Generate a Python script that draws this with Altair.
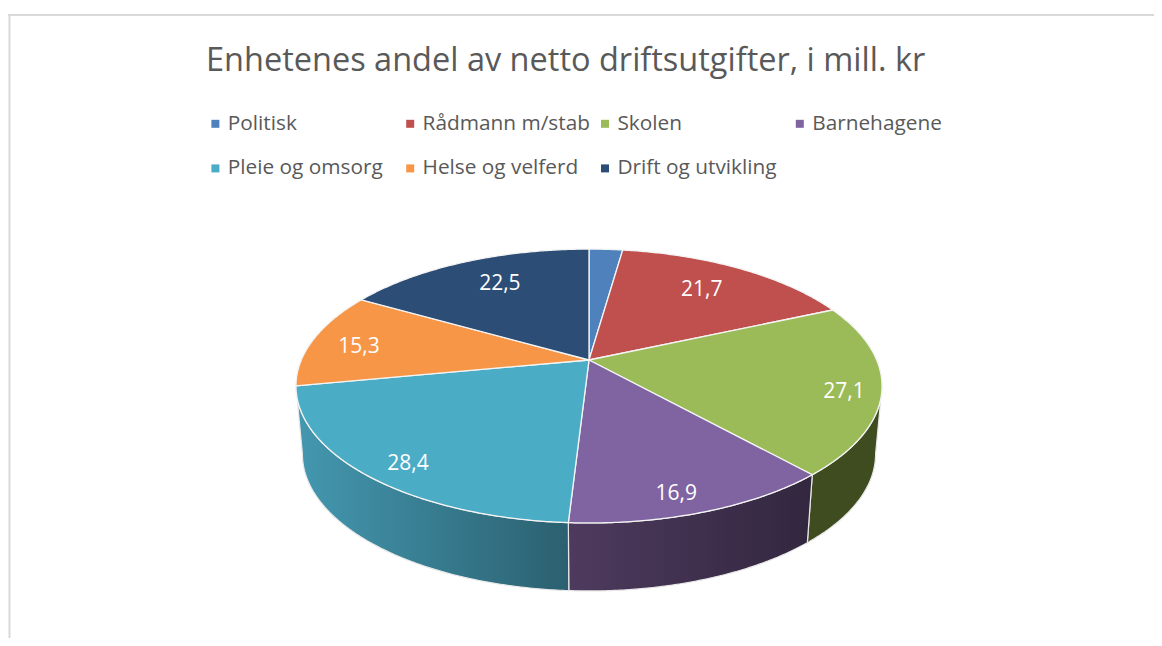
import math
import altair as alt
import pandas as pd

# ---- chart values ----
categories = ["Politisk", "Rådmann m/stab", "Skolen", "Barnehagene",
              "Pleie og omsorg", "Helse og velferd", "Drift og utvikling"]
values = [3.0, 21.7, 27.1, 16.9, 28.4, 15.3, 22.5]
labels = ["", "21,7", "27,1", "16,9", "28,4", "15,3", "22,5"]
colors = ["#4f81bd", "#c0504d", "#9bbb59", "#8064a2", "#4bacc6", "#f79646", "#2c4d75"]
title_text = "Enhetenes andel av netto driftsutgifter, i mill. kr"

# ---- 3-D pie geometry (perspective view of a disc, page pixels) ----
CX, CY = 589.0, 360.0
RX, RY = 287.7, 132.0
PERSP = 0.19
DEPTH = 68.0
BOTTOM_SHRINK = 0.978
VISIBLE_FROM = 101.0
label_radius = [0.8, 0.75, 0.877, 0.878, 0.869, 0.825, 0.75]
label_turn = [0.0, -1.3, 2.1, 2.35, -2.1, -1.5, 2.3]
FONT = "Open Sans"


def top_point(theta_deg, r=1.0):
    t = math.radians(theta_deg)
    u, v = r * math.sin(t), r * math.cos(t)
    w = 1 + PERSP * v
    return [CX + RX * u / w, CY - RY * v / w]


def bottom_point(theta_deg):
    x, y = top_point(theta_deg)
    return [CX + (x - CX) * BOTTOM_SHRINK, y + DEPTH]


def sweep(a, b):
    n = max(2, int((b - a) * 2))
    return [a + (b - a) * i / n for i in range(n + 1)]


total = sum(values)
starts, ends = [], []
acc = 0.0
for val in values:
    starts.append(acc / total * 360)
    acc += val
    ends.append(acc / total * 360)


def feature(name, ring):
    ring = ring + [ring[0]]
    return {"type": "Feature", "properties": {"name": name},
            "geometry": {"type": "Polygon", "coordinates": [ring]}}


def geo(features):
    return alt.InlineData(values={"type": "FeatureCollection", "features": features},
                          format=alt.DataFormat(property="features", type="json"))


top_features = [
    feature(c, [[CX, CY]] + [top_point(t) for t in sweep(a, b)])
    for c, a, b in zip(categories, starts, ends)
]


def wall(i):
    ts = sweep(max(starts[i], VISIBLE_FROM), ends[i])
    ring = [top_point(t) for t in ts] + [bottom_point(t) for t in reversed(ts)]
    return feature(categories[i], ring)


def wall_layer(i, left, right):
    fill = alt.Gradient(gradient="linear", x1=0, x2=1, y1=0, y2=0,
                        stops=[alt.GradientStop(color=left, offset=0),
                               alt.GradientStop(color=right, offset=1)])
    return alt.Chart(geo([wall(i)])).mark_geoshape(fill=fill, stroke="#e8e8e8", strokeWidth=1.2)


label_rows = []
for i, lab in enumerate(labels):
    if lab:
        x, y = top_point((starts[i] + ends[i]) / 2 + label_turn[i], label_radius[i])
        label_rows.append({"lon": x, "lat": y, "label": lab})
label_df = pd.DataFrame(label_rows)

frame_top = alt.Chart(pd.DataFrame({"k": [0]})).mark_rule(color="#d9d9d9", strokeWidth=2).encode(
    x=alt.value(0), x2=alt.value(1146), y=alt.value(7))
frame_left = alt.Chart(pd.DataFrame({"k": [0]})).mark_rule(color="#d9d9d9", strokeWidth=2).encode(
    x=alt.value(1.5), y=alt.value(6), y2=alt.value(630))

top = alt.Chart(geo(top_features)).mark_geoshape(stroke="#f4f4f4", strokeWidth=1.3).encode(
    color=alt.Color(
        "properties.name:N",
        scale=alt.Scale(domain=categories, range=colors),
        legend=alt.Legend(
            title=None, orient="none", legendX=197, legendY=105, columns=4, direction="horizontal",
            gridAlign="all", symbolType="square", symbolSize=64, symbolStrokeWidth=0,
            labelFont=FONT, labelFontSize=20.8, labelColor="#595959", labelLimit=300,
            labelOffset=2, columnPadding=3.8, rowPadding=23,
        ),
    )
)

text = alt.Chart(label_df).mark_text(font=FONT, fontSize=21, color="white", dy=2).encode(
    longitude="lon:Q", latitude="lat:Q", text="label:N")

chart = alt.layer(
    frame_top, frame_left,
    wall_layer(2, "#3f4c20", "#3f4c20"),
    wall_layer(3, "#4e3a5e", "#32273f"),
    wall_layer(4, "#4498b0", "#2b6070"),
    top, text,
).project(type="identity", scale=1, translate=[-8, -8], reflectY=False).properties(
    width=1146, height=630, padding=0,
    autosize=alt.AutoSizeParams(type="none"),
    title=alt.TitleParams(title_text, anchor="start", frame="group", font=FONT, fontSize=32.5,
                          fontWeight="normal", color="#595959", dx=198, dy=69, offset=0),
).configure_view(stroke=None)

chart.save("out.html", embed_options={"renderer": "svg", "actions": False})
